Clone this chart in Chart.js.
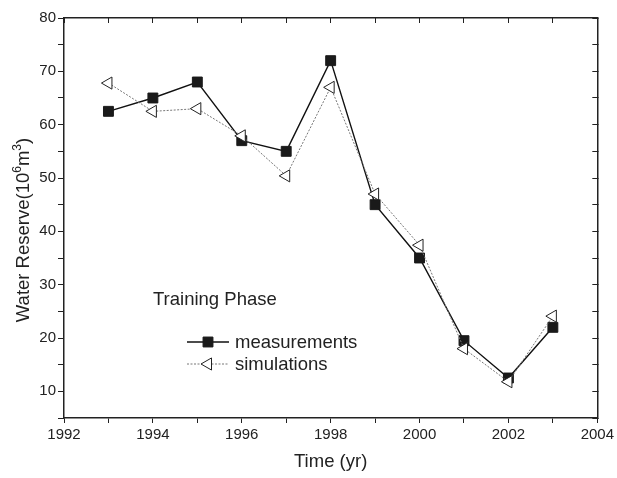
<!DOCTYPE html>
<html>
<head>
<meta charset="utf-8">
<script src="https://cdn.jsdelivr.net/npm/chart.js@4/dist/chart.umd.min.js"></script>
<style>
  body { margin: 0; background: #fff; }
  canvas { display: block; }
</style>
</head>
<body>
<canvas id="reserve-chart" width="617" height="478"></canvas>
<script>
// Water reserve - training phase, measured vs simulated

const years = [1993, 1994, 1995, 1996, 1997, 1998, 1999, 2000, 2001, 2002, 2003];
const measurements = [62.5, 65, 68, 57, 55, 72, 45, 35, 19.5, 12.5, 22];
const simulations = [67.8, 62.5, 63, 57.9, 50.4, 67, 47, 37.4, 18, 11.8, 24.1];

const seriesNames = ['measurements', 'simulations'];
const phaseLabel = 'Training Phase';
const xTitle = 'Time (yr)';

const FONT = '"Liberation Sans", Arial, Helvetica, sans-serif';
const INK = '#222';

function toPoints(values) {
    return years.map((yr, i) => ({ x: yr, y: values[i] }));
}

// text inside the plot: phase label + legend, and the y title with superscripts
const annotations = {
    id: 'annotations',
    afterDraw(chart) {
        const ctx = chart.ctx;
        ctx.save();
        ctx.fillStyle = INK;
        ctx.font = '18.5px ' + FONT;
        ctx.textBaseline = 'alphabetic';
        ctx.fillText(phaseLabel, 153, 305);

        const rows = [
            { y: 342, ds: chart.data.datasets[0] },
            { y: 364, ds: chart.data.datasets[1] }
        ];
        rows.forEach((row, i) => {
            const ds = row.ds;
            ctx.save();
            ctx.strokeStyle = ds.borderColor;
            ctx.lineWidth = ds.borderWidth;
            ctx.setLineDash(ds.borderDash || []);
            ctx.beginPath();
            ctx.moveTo(187, row.y);
            ctx.lineTo(229, row.y);
            ctx.stroke();
            ctx.setLineDash([]);
            ctx.fillStyle = ds.pointBackgroundColor;
            ctx.strokeStyle = ds.pointBorderColor;
            ctx.lineWidth = ds.pointBorderWidth;
            Chart.helpers.drawPoint(ctx, {
                pointStyle: ds.pointStyle,
                rotation: ds.pointRotation || 0,
                radius: ds.pointRadius,
                borderWidth: ds.pointBorderWidth
            }, 208, row.y);
            ctx.restore();
            ctx.fillStyle = INK;
            ctx.fillText(seriesNames[i], 235, row.y + 6);
        });

        // y axis title, rotated
        ctx.translate(29, 230);
        ctx.rotate(-Math.PI / 2);
        const parts = [
            ['Water Reserve(10', 18.5, 0],
            ['6', 12, -8],
            ['m', 18.5, 0],
            ['3', 12, -8],
            [')', 18.5, 0]
        ];
        let total = 0;
        parts.forEach(p => { ctx.font = p[1] + 'px ' + FONT; total += ctx.measureText(p[0]).width; });
        let x = -total / 2;
        parts.forEach(p => {
            ctx.font = p[1] + 'px ' + FONT;
            ctx.fillText(p[0], x, p[2]);
            x += ctx.measureText(p[0]).width;
        });
        ctx.restore();
    }
};

const ctx = document.getElementById('reserve-chart').getContext('2d');
window.reserveChart = new Chart(ctx, {
    type: 'line',
    data: {
        datasets: [
            {
                label: seriesNames[0],
                data: toPoints(measurements),
                borderColor: '#111',
                borderWidth: 1.4,
                pointStyle: 'rect',
                pointRadius: 7,
                pointBackgroundColor: '#1a1a1a',
                pointBorderColor: '#1a1a1a',
                pointBorderWidth: 1,
                tension: 0,
                order: 1
            },
            {
                label: seriesNames[1],
                data: toPoints(simulations),
                borderColor: '#777',
                borderWidth: 1,
                borderDash: [2, 1.5],
                pointStyle: 'triangle',
                pointRotation: -90,
                pointRadius: 7,
                pointBackgroundColor: '#fff',
                pointBorderColor: '#222',
                pointBorderWidth: 1,
                tension: 0,
                order: 0
            }
        ]
    },
    options: {
        responsive: false,
        animation: false,
        devicePixelRatio: 1,
        layout: { padding: 0 },
        plugins: {
            legend: { display: false },
            tooltip: { enabled: false }
        },
        scales: {
            x: {
                type: 'linear',
                position: 'bottom',
                min: 1992,
                max: 2004,
                afterFit: s => { s.height = 60; },
                ticks: {
                    stepSize: 1,
                    autoSkip: false,
                    maxRotation: 0,
                    padding: 3,
                    color: INK,
                    font: { family: FONT, size: 15 },
                    callback: v => (v % 2 === 0 ? String(v) : '')
                },
                grid: { drawOnChartArea: false, drawTicks: true, tickLength: 5, color: INK },
                border: { display: true, color: INK, width: 1.5 },
                title: {
                    display: true,
                    text: xTitle,
                    color: INK,
                    font: { family: FONT, size: 18.5 },
                    padding: { top: 0, bottom: 5 }
                }
            },
            y: {
                type: 'linear',
                position: 'left',
                min: 5,
                max: 80,
                afterFit: s => { s.width = 64; },
                ticks: {
                    stepSize: 5,
                    padding: 2,
                    color: INK,
                    font: { family: FONT, size: 15 },
                    callback: v => (v % 10 === 0 ? String(v) : '')
                },
                grid: { drawOnChartArea: false, drawTicks: true, tickLength: 6, color: INK },
                border: { display: true, color: INK, width: 1.5 }
            },
            xTop: {
                type: 'linear',
                position: 'top',
                min: 1992,
                max: 2004,
                afterFit: s => { s.height = 18; },
                ticks: { stepSize: 1, display: false },
                grid: { drawOnChartArea: false, drawTicks: true, tickLength: -5, color: INK },
                border: { display: true, color: INK, width: 1.5 }
            },
            yRight: {
                type: 'linear',
                position: 'right',
                min: 5,
                max: 80,
                afterFit: s => { s.width = 17; },
                ticks: { stepSize: 5, display: false },
                grid: { drawOnChartArea: false, drawTicks: true, tickLength: -5, color: INK },
                border: { display: true, color: INK, width: 1.5 }
            }
        }
    },
    plugins: [annotations]
});
</script>
</body>
</html>
